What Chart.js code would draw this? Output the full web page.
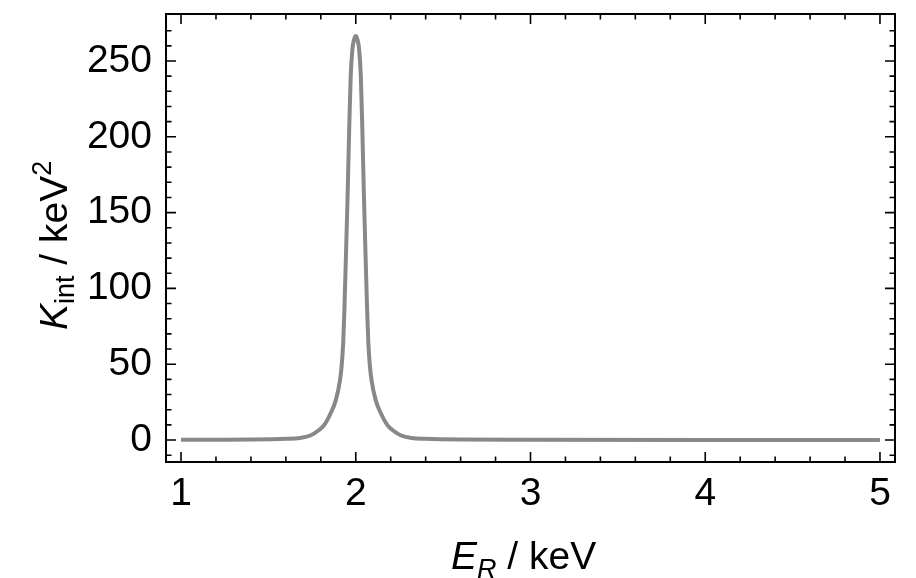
<!DOCTYPE html>
<html lang="en">
<head>
    <meta charset="UTF-8">
    <title>K_int vs recoil energy</title>
    <script src="https://cdn.jsdelivr.net/npm/chart.js"></script>
    <style>
        body { margin: 0; background: #ffffff; }
        .wrap { position: relative; width: 916px; height: 578px; }
    </style>
</head>
<body>
    <div class="wrap"><canvas id="kintChart"></canvas></div>

    <script>
        // recoil energy (keV) and integrated kernel (keV^2), sampled densely around the 2 keV peak
        const energyKeV = [1.00, 1.20, 1.40, 1.60, 1.68, 1.74, 1.79, 1.82, 1.857, 1.885, 1.91, 1.92, 1.928, 1.935, 1.944, 1.953, 1.962, 1.971, 1.981, 1.99,
                           2.00,
                           2.01, 2.019, 2.029, 2.038, 2.047, 2.056, 2.065, 2.072, 2.08, 2.09, 2.115, 2.143, 2.18, 2.21, 2.26, 2.32, 2.40, 2.60, 3.00, 4.00, 5.00];
        const kInt = [0.1, 0.15, 0.3, 0.8, 1.3, 3.0, 6.6, 10, 17.8, 26, 39.6, 50, 64, 86, 122, 160, 203, 240, 258, 264,
                      266.5,
                      264, 258, 240, 203, 160, 122, 86, 64, 50, 39.6, 26, 17.8, 10, 6.6, 3.0, 1.3, 0.8, 0.3, 0.1, 0.05, 0.03];

        const xTicks = [1, 2, 3, 4, 5];
        const yTicks = [0, 50, 100, 150, 200, 250];

        const FONT = '"Liberation Sans", Arial, sans-serif';

        // frame with inward ticks on all four sides
        const framePlugin = {
            id: 'frame',
            afterDatasetsDraw(chart) {
                const { ctx, chartArea: a, scales: { x, y } } = chart;
                ctx.save();
                ctx.strokeStyle = '#000';
                ctx.lineWidth = 1.6;
                ctx.beginPath();
                for (let i = 0; i <= 20; i++) {
                    const px = x.getPixelForValue(1 + i * 0.2);
                    const len = i % 5 === 0 ? 10 : 5.5;
                    ctx.moveTo(px, a.bottom); ctx.lineTo(px, a.bottom - len);
                    ctx.moveTo(px, a.top); ctx.lineTo(px, a.top + len);
                }
                for (let v = -10; v <= 280; v += 10) {
                    const py = y.getPixelForValue(v);
                    if (py < a.top + 3 || py > a.bottom - 3) continue;
                    const len = v % 50 === 0 ? 10 : 5.5;
                    ctx.moveTo(a.left, py); ctx.lineTo(a.left + len, py);
                    ctx.moveTo(a.right, py); ctx.lineTo(a.right - len, py);
                }
                ctx.stroke();
                ctx.lineWidth = 2;
                ctx.strokeRect(a.left, a.top, a.right - a.left, a.bottom - a.top);
                ctx.restore();
            }
        };

        // draws a run of text pieces (italic / sub / superscript) along one baseline
        function drawRuns(ctx, runs) {
            let cx = 0;
            runs.forEach(r => {
                ctx.font = (r.italic ? 'italic ' : '') + r.size + 'px ' + FONT;
                ctx.fillText(r.text, cx, r.dy || 0);
                cx += ctx.measureText(r.text).width;
            });
        }

        const titlesPlugin = {
            id: 'axisTitles',
            afterDraw(chart) {
                const ctx = chart.ctx;
                ctx.save();
                ctx.fillStyle = '#000';
                ctx.textBaseline = 'alphabetic';
                ctx.textAlign = 'left';

                ctx.save();
                ctx.translate(451, 569);
                drawRuns(ctx, [
                    { text: 'E', size: 39, italic: true },
                    { text: 'R', size: 27, italic: true, dy: 9 },
                    { text: ' / keV', size: 39 }
                ]);
                ctx.restore();

                ctx.save();
                ctx.translate(67, 330);
                ctx.rotate(-Math.PI / 2);
                drawRuns(ctx, [
                    { text: 'K', size: 39, italic: true },
                    { text: 'int', size: 27, dy: 7 },
                    { text: ' / keV', size: 39 },
                    { text: '2', size: 27, dy: -16 }
                ]);
                ctx.restore();

                ctx.restore();
            }
        };

        const ctx = document.getElementById('kintChart').getContext('2d');

        new Chart(ctx, {
            type: 'line',
            data: {
                datasets: [{
                    data: energyKeV.map((e, i) => ({ x: e, y: kInt[i] })),
                    borderColor: '#888888',
                    borderWidth: 4,
                    pointRadius: 0,
                    cubicInterpolationMode: 'monotone',
                    fill: false
                }]
            },
            options: {
                responsive: true,
                maintainAspectRatio: false,
                animation: false,
                layout: { padding: { left: 0, top: 14, right: 21, bottom: 0 } },
                plugins: {
                    legend: { display: false },
                    tooltip: { enabled: false }
                },
                scales: {
                    x: {
                        type: 'linear',
                        min: 0.914,
                        max: 5.086,
                        grid: { display: false, drawTicks: false },
                        border: { display: false },
                        afterBuildTicks: s => { s.ticks = xTicks.map(v => ({ value: v })); },
                        afterFit: s => { s.height = 116; s.paddingLeft = 0; s.paddingRight = 0; },
                        ticks: {
                            color: '#000',
                            padding: 9,
                            maxRotation: 0,
                            font: { family: FONT, size: 39 },
                            callback: v => String(v)
                        }
                    },
                    y: {
                        type: 'linear',
                        min: -14.5,
                        max: 281,
                        grid: { display: false, drawTicks: false },
                        border: { display: false },
                        afterBuildTicks: s => { s.ticks = yTicks.map(v => ({ value: v })); },
                        afterFit: s => { s.width = 166; s.paddingTop = 0; s.paddingBottom = 0; },
                        ticks: {
                            color: '#000',
                            padding: 14,
                            font: { family: FONT, size: 39 },
                            callback: v => String(v)
                        }
                    }
                }
            },
            plugins: [framePlugin, titlesPlugin]
        });
    </script>
</body>
</html>
